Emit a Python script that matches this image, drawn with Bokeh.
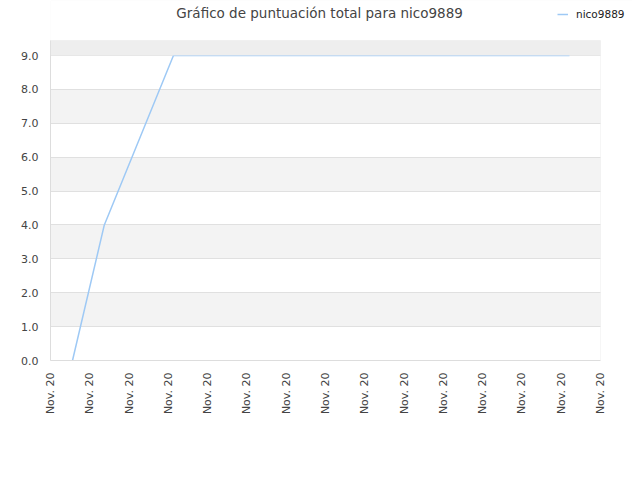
from bokeh.plotting import figure
from bokeh.models import Legend, LegendItem, FixedTicker, BoxAnnotation, Range1d, Label, CustomJSTickFormatter
from bokeh.embed import file_html
from bokeh.resources import INLINE

# data
x_pos = [0.56, 1.37, 3.13, 13.21]
scores = [0.0, 4.0, 9.0, 9.0]
tick_positions = list(range(15))
tick_labels = ["Nov. 20"] * 15
y_ticks = [0, 1, 2, 3, 4, 5, 6, 7, 8, 9]
series_name = "nico9889"
title_text = "Gráfico de puntuación total para nico9889"

FONT = "DejaVu Sans"
X0, X1 = 0, 14
X_END = 14.815
BOX_TOP = 9.443
Y_END = 10.623

p = figure(width=632, height=472, output_backend="svg", toolbar_location=None,
           x_range=Range1d(X0, X_END), y_range=Range1d(0, Y_END),
           min_border_left=50, min_border_right=0, min_border_top=0, min_border_bottom=112)
p.outline_line_color = None
p.background_fill_color = "white"

# bands
p.ygrid.ticker = FixedTicker(ticks=y_ticks)
p.ygrid.grid_line_color = "#e0e0e0"
p.ygrid.band_fill_color = "#f3f3f3"
p.ygrid.band_fill_alpha = 1.0
p.xgrid.visible = False
p.add_layout(BoxAnnotation(bottom=y_ticks[-1], top=BOX_TOP, fill_color="#eeeeee",
                           fill_alpha=1.0, line_alpha=0))
# white outside the plot box
p.add_layout(BoxAnnotation(bottom=BOX_TOP, fill_color="white", fill_alpha=1.0, line_alpha=0))
p.add_layout(BoxAnnotation(left=X1, fill_color="white", fill_alpha=1.0, line_alpha=0))
p.add_layout(BoxAnnotation(left=X0, right=X1, bottom=0, top=BOX_TOP, fill_alpha=0,
                           line_color="#dddddd", line_width=1))

r = p.line(x_pos, scores, line_color="#9ec9f5", line_width=1.5)

p.yaxis.ticker = FixedTicker(ticks=y_ticks)
p.yaxis.bounds = (0, BOX_TOP)
p.yaxis.formatter = CustomJSTickFormatter(code="return tick.toFixed(1)")
p.xaxis.ticker = FixedTicker(ticks=tick_positions)
p.xaxis.bounds = (X0, X1)
p.xaxis.major_label_overrides = {i: lab for i, lab in zip(tick_positions, tick_labels)}
p.xaxis.major_label_orientation = 3.14159265 / 2
for ax in (p.xaxis, p.yaxis):
    ax.axis_line_color = "#dddddd"
    ax.major_tick_line_color = None
    ax.minor_tick_line_color = None
    ax.major_label_text_font = FONT
    ax.major_label_text_font_size = "11px"
    ax.major_label_text_color = "#444444"
    ax.major_label_standoff = 6

legend = Legend(items=[LegendItem(label=series_name, renderers=[r])],
                location=(507, 340), background_fill_alpha=0, border_line_alpha=0,
                label_text_font=FONT, label_text_font_size="10.5px", label_text_color="#222222",
                glyph_width=11, glyph_height=10, padding=0, spacing=0, margin=0,
                label_standoff=8)
p.add_layout(legend, "center")

title = Label(x=6.85, y=10.24, text=title_text,
              text_align="center", text_baseline="middle", text_font=FONT,
              text_font_size="13.5px", text_color="#444444")
p.add_layout(title)

open("out.html", "w").write(file_html(p, INLINE))
